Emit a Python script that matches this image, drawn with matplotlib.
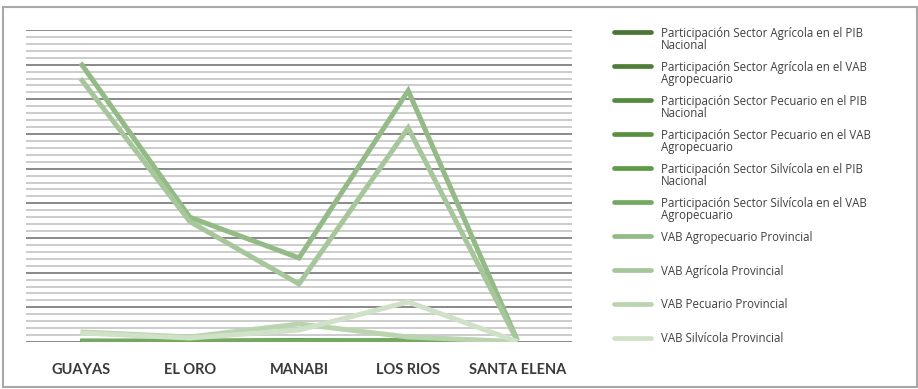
import numpy as np
import matplotlib
matplotlib.use('Agg')
import matplotlib.pyplot as plt
from matplotlib.patches import Rectangle
from matplotlib.lines import Line2D

plt.rcParams['font.family'] = ['Open Sans', 'DejaVu Sans']

provincias = ['GUAYAS', 'EL ORO', 'MANABI', 'LOS RIOS', 'SANTA ELENA']

series = [
    'Participación Sector Agrícola en el PIB\nNacional',
    'Participación Sector Agrícola en el VAB\nAgropecuario',
    'Participación Sector Pecuario en el PIB\nNacional',
    'Participación Sector Pecuario en el VAB\nAgropecuario',
    'Participación Sector Silvícola en el PIB\nNacional',
    'Participación Sector Silvícola en el VAB\nAgropecuario',
    'VAB Agropecuario Provincial',
    'VAB Agrícola Provincial',
    'VAB Pecuario Provincial',
    'VAB Silvícola Provincial',
]

# valores por provincia (participaciones en %, VAB en millones USD)
part_agr_pib = [2.9, 1.6, 1.8, 2.2, 0.1]
part_agr_vab = [5.2, 4.6, 3.9, 4.8, 0.3]
part_pec_pib = [0.4, 0.2, 0.6, 0.3, 0.0]
part_pec_vab = [3.1, 3.3, 8.6, 2.1, 0.2]
part_sil_pib = [0.2, 0.1, 0.3, 0.9, 0.0]
part_sil_vab = [2.8, 2.7, 5.3, 9.4, 0.1]
vab_agropecuario = [1610, 720, 485, 1450, 8]
vab_agricola = [1520, 695, 335, 1235, 6]
vab_pecuario = [58, 29, 104, 29, 2]
vab_silvicola = [52, 23, 69, 231, 2]

valores = [part_agr_pib, part_agr_vab, part_pec_pib, part_pec_vab,
           part_sil_pib, part_sil_vab, vab_agropecuario, vab_agricola,
           vab_pecuario, vab_silvicola]

colores = ['#4b7535', '#4f7e38', '#55893d', '#5a9141', '#5f9b45',
           '#73aa5f', '#93bb85', '#a6c79a', '#bad4b0', '#cfe1c7']

W, H = 918, 389
fig = plt.figure(figsize=(W / 100, H / 100), dpi=100)
ax = fig.add_axes([26 / W, 1 - 342 / H, (572 - 26) / W, (342 - 30) / H])

paso = 40
ymax = 45 * paso
for k in range(46):
    mayor = k % 5 == 0
    ax.axhline(k * paso, color='#808080' if mayor else '#c8c8c8',
               lw=1.3, zorder=0)

x = np.arange(len(provincias))
for vals, col in zip(valores, colores):
    ax.plot(x, vals, color=col, lw=3.6, solid_capstyle='butt',
            solid_joinstyle='miter', zorder=2)

ax.set_xlim(-0.5, len(provincias) - 0.5)
ax.set_ylim(0, ymax)
ax.set_xticks(x)
ax.set_xticklabels(provincias, fontsize=10.5, fontweight='bold',
                   color='#3a3a3a', family=['Lato', 'DejaVu Sans'])
ax.tick_params(axis='x', length=0, pad=15)
ax.set_yticks([])
for s in ax.spines.values():
    s.set_visible(False)

# leyenda dibujada a mano en pixeles
y0, dy = 32, 34
for i, (lab, col) in enumerate(zip(series, colores)):
    yp = y0 + i * dy
    fig.add_artist(Line2D([614 / W, 651 / W], [1 - yp / H, 1 - yp / H],
                          color=col, lw=3.4, solid_capstyle='round'))
    fig.text(661 / W, 1 - (yp - 5.5) / H, lab, fontsize=8.3, color='#404040',
             va='top', ha='left', linespacing=0.95)

fig.add_artist(Rectangle((3 / W, 1 - 387 / H), 914 / W, 380 / H,
                         transform=fig.transFigure, fill=False,
                         edgecolor='#a8a8a8', lw=1.5))

fig.savefig('out.png', dpi=100)
